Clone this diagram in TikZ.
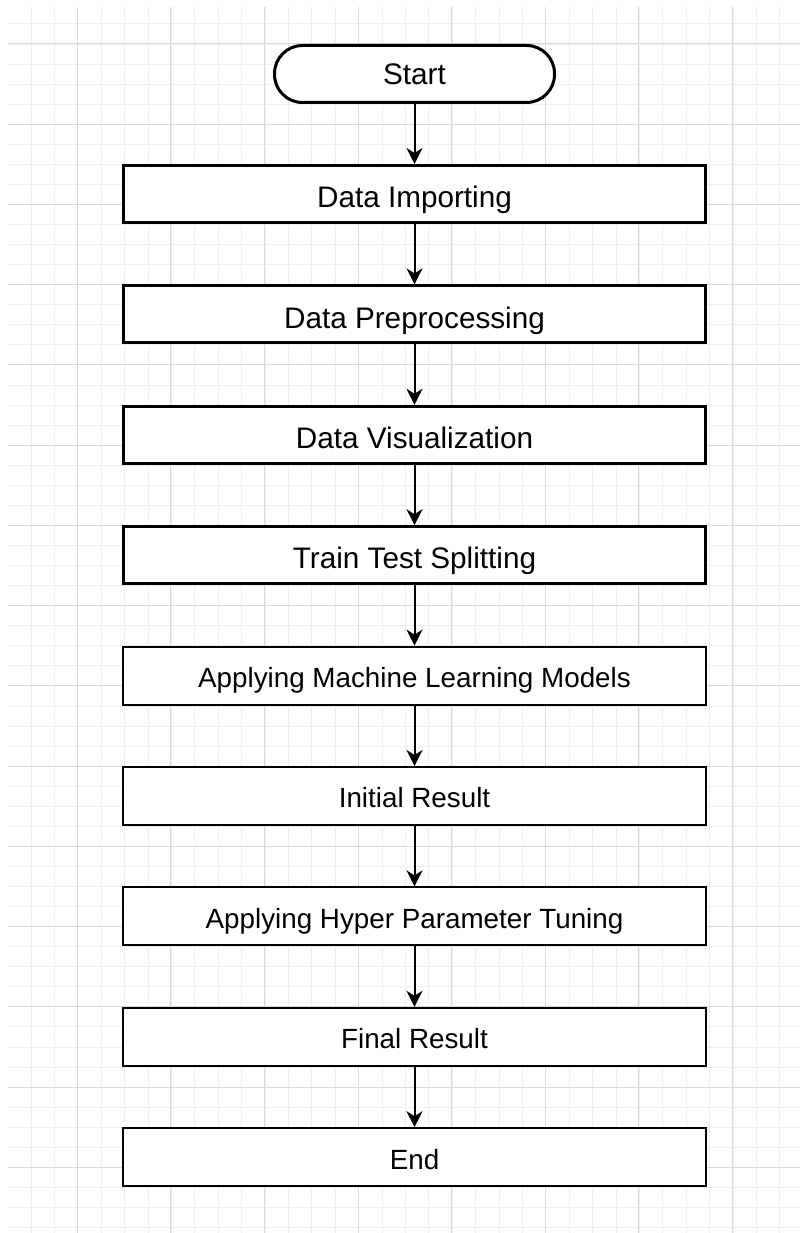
\documentclass[tikz,border=0pt]{standalone}
\usepackage{fontspec}
\setmainfont{Liberation Sans}
\usetikzlibrary{arrows.meta}
\definecolor{gridminor}{HTML}{EFEFEF}
\definecolor{gridmajor}{HTML}{DADADA}
\tikzset{
  bigbox/.style={draw=black, line width=3pt, fill=white, minimum width=582pt, minimum height=57pt,
    inner sep=0pt, font=\fontsize{29.7}{32}\selectfont, text height=27.3pt, text depth=0pt},
  smallbox/.style={draw=black, line width=2pt, fill=white, minimum width=583pt, minimum height=58pt,
    inner sep=0pt, font=\fontsize{27.8}{30}\selectfont, text height=23.9pt, text depth=0pt},
  termbox/.style={draw=black, line width=3pt, fill=white, rounded corners=28pt, minimum width=280pt,
    minimum height=57pt, inner sep=0pt, font=\fontsize{29.7}{32}\selectfont, text height=21.8pt, text depth=0pt},
  flow/.style={line width=2pt, -{Stealth[length=16pt, width=16pt, inset=5pt]}},
  minorline/.style={draw=gridminor, line width=1pt},
  majorline/.style={draw=gridmajor, line width=1pt}
}
\begin{document}
\begin{tikzpicture}[x=1pt, y=-1pt]
  \useasboundingbox (0,0) rectangle (800,1233);
  \fill[white] (0,0) rectangle (800,1233);
  % grid
  \begin{scope}
    \clip (8,7) rectangle (800,1233);
    \foreach \k in {0,...,34} {
      \pgfmathsetmacro\xx{7.6+23.4*\k}
      \draw[minorline] (\xx,7) -- (\xx,1233);
    }
    \foreach \k in {1,...,61} {
      \pgfmathsetmacro\yy{3.9+20.06*\k}
      \draw[minorline] (8,\yy) -- (800,\yy);
    }
    \foreach \k in {0,...,7} {
      \pgfmathsetmacro\xx{77.2+93.6*\k}
      \draw[majorline] (\xx,7) -- (\xx,1233);
    }
    \foreach \k in {0,...,14} {
      \pgfmathsetmacro\yy{44+80.24*\k}
      \draw[majorline] (8,\yy) -- (800,\yy);
    }
  \end{scope}
  % nodes
  \node[termbox] (start) at (414.5,74) {Start};
  \node[bigbox] (imp) at (414.5,194) {Data Importing};
  \node[bigbox] (pre) at (414.5,314.4) {Data Preprocessing};
  \node[bigbox] (vis) at (414.5,434.8) {Data Visualization};
  \node[bigbox] (split) at (414.5,555.2) {Train Test Splitting};
  \node[smallbox] (ml) at (414.5,675.6) {Applying Machine Learning Models};
  \node[smallbox] (init) at (414.5,796) {Initial Result};
  \node[smallbox] (hyper) at (414.5,916.4) {Applying Hyper Parameter Tuning};
  \node[smallbox] (final) at (414.5,1036.8) {Final Result};
  \node[smallbox] (end) at (414.5,1157.2) {End};
  % connectors
  \draw[flow] (start.south) -- (imp.north);
  \draw[flow] (imp.south) -- (pre.north);
  \draw[flow] (pre.south) -- (vis.north);
  \draw[flow] (vis.south) -- (split.north);
  \draw[flow] (split.south) -- (ml.north);
  \draw[flow] (ml.south) -- (init.north);
  \draw[flow] (init.south) -- (hyper.north);
  \draw[flow] (hyper.south) -- (final.north);
  \draw[flow] (final.south) -- (end.north);
\end{tikzpicture}
\end{document}
